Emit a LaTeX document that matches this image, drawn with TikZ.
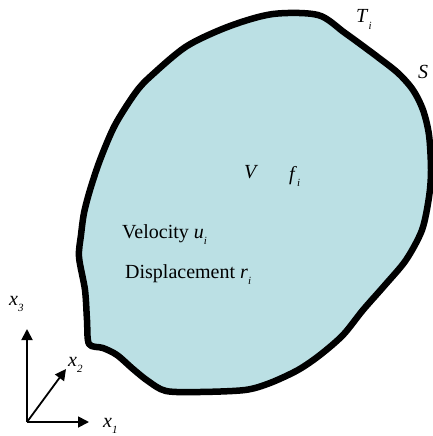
\documentclass[tikz,border=0pt]{standalone}
\usepackage{fontspec}
\setmainfont{Liberation Serif}
\usepackage{tikz}
\usetikzlibrary{arrows.meta,positioning}
\definecolor{bodyfill}{RGB}{187,224,228}
\newcommand{\idx}[1]{\raisebox{-0.32em}{\fontsize{11}{11}\selectfont\itshape #1}}
\tikzset{
  body/.style  = {draw, line width=6.5pt, fill=bodyfill, line join=round},
  axis/.style  = {-{Triangle[length=11pt,width=11pt]}, line width=1.8pt},
  lbl/.style   = {anchor=base west, inner sep=0pt, font=\fontsize{20}{24}\selectfont},
}
\begin{document}
\begin{tikzpicture}[x=1pt,y=-1pt]
\useasboundingbox (0,0) rectangle (433,436);
% the body V with surface S
\draw[body] plot[smooth cycle, tension=0.5] coordinates {
  (273,14) (318,15) (345,33) (375,55) (398,73) (413,90) (423,110)
  (429,135) (431,170) (429,197) (422,230) (406,260) (385,285) (363,310)
  (343,335) (320,355) (298,370) (270,383) (245,390) (200,392) (166,391)
  (148,381) (133,369) (117,355) (103,348) (89,344) (87,320) (85,290)
  (79,257) (81,235) (84,213) (90,190) (100,160) (115,125) (136,92)
  (152,75) (187,46) (230,26)};
% labels
\node[lbl] (Ti) at (356,23) {\textit{T}\idx{i}};
\node[lbl] (S)  at (418,78) {\textit{S}};
\node[lbl] (V)  at (244,178) {\textit{V}};
\node[lbl] (fi) at (289,180) {\textit{f}\idx{i}};
\node[lbl] (vel) at (122,238) {Velocity \textit{u}\idx{i}};
\node[lbl] (disp) at (125,278) {Displacement \textit{r}\idx{i}};
% axes
\coordinate (o)  at (27,422);
\coordinate (e1) at (89,422);
\coordinate (e2) at (66,369);
\coordinate (e3) at (27,329);
\draw[axis] (o) -- (e1);
\draw[axis] (o) -- (e2);
\draw[axis] (o) -- (e3);
\node[lbl] (x1) at (103,427) {\textit{x}\idx{1}};
\node[lbl] (x2) at (68,366) {\textit{x}\idx{2}};
\node[lbl] (x3) at (9,305) {\textit{x}\idx{3}};
\end{tikzpicture}
\end{document}
